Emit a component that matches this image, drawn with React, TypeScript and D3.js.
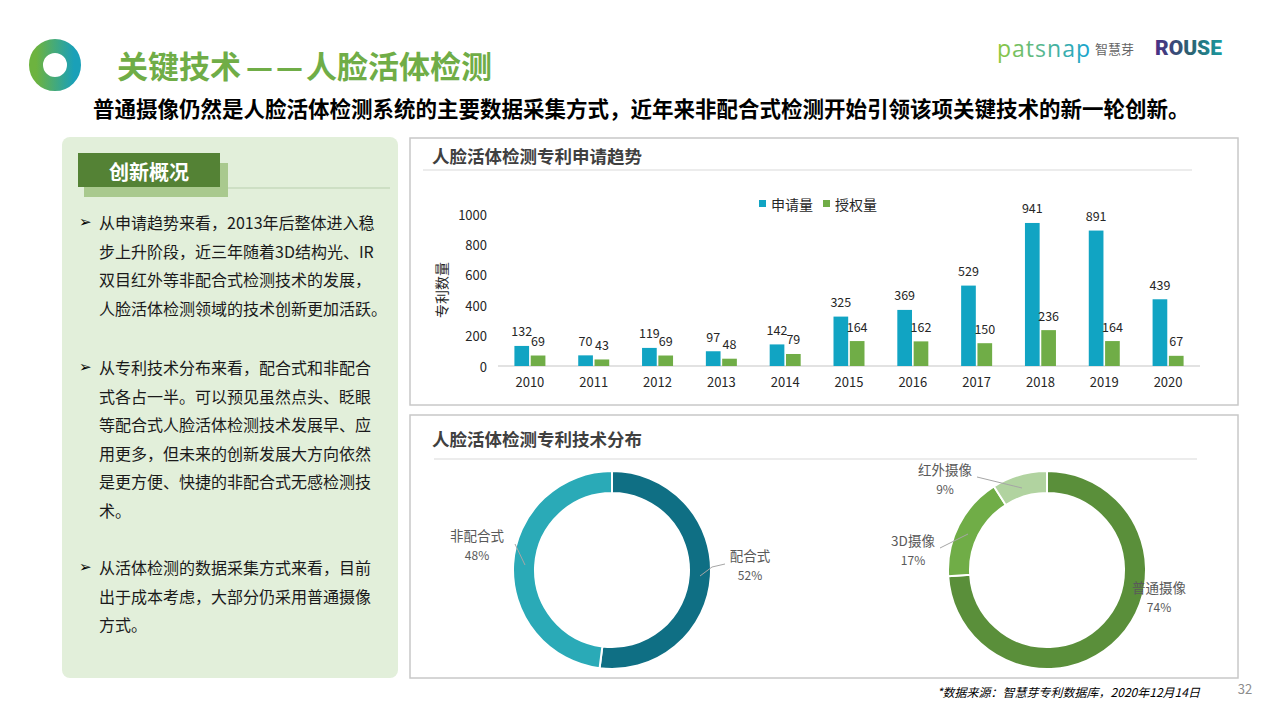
import React from "react";
import * as d3 from "d3";

const years = ["2010", "2011", "2012", "2013", "2014", "2015", "2016", "2017", "2018", "2019", "2020"];
const applications = [132, 70, 119, 97, 142, 325, 369, 529, 941, 891, 439];
const grants = [69, 43, 69, 48, 79, 164, 162, 150, 236, 164, 67];
const seriesNames = ["申请量", "授权量"];
const seriesColors = ["#11a4c3", "#70ad47"];
const yTicks = [0, 200, 400, 600, 800, 1000];

const modeLabels = ["配合式", "非配合式"];
const modeValues = [52, 48];
const modeColors = ["#0f6f84", "#2aaab7"];

const cameraLabels = ["普通摄像", "3D摄像", "红外摄像"];
const cameraValues = [74, 17, 9];
const cameraColors = ["#5a8f3a", "#70ad47", "#b1d3a0"];

const para1 = [
  "从申请趋势来看，2013年后整体进入稳",
  "步上升阶段，近三年随着3D结构光、IR",
  "双目红外等非配合式检测技术的发展，",
  "人脸活体检测领域的技术创新更加活跃。",
];
const para2 = [
  "从专利技术分布来看，配合式和非配合",
  "式各占一半。可以预见虽然点头、眨眼",
  "等配合式人脸活体检测技术发展早、应",
  "用更多，但未来的创新发展大方向依然",
  "是更方便、快捷的非配合式无感检测技",
  "术。",
];
const para3 = [
  "从活体检测的数据采集方式来看，目前",
  "出于成本考虑，大部分仍采用普通摄像",
  "方式。",
];

const FONT = "'Noto Sans CJK SC', 'Noto Sans', sans-serif";

function Donut({ cx, cy, values, colors, labels, labelPos, leaders }) {
  const pie = d3.pie<number>().sort(null).value((d) => d);
  const arcs = pie(values);
  const arc = d3.arc<any>().innerRadius(77).outerRadius(99);
  return (
    <g>
      <g transform={`translate(${cx},${cy})`}>
        {arcs.map((a, i) => (
          <path key={i} d={arc(a) || ""} fill={colors[i]} stroke="#fff" strokeWidth={2} />
        ))}
      </g>
      {leaders.map((pts, i) => (
        <polyline key={i} points={pts.map((p) => p.join(",")).join(" ")} fill="none" stroke="#a6a6a6" strokeWidth={1} />
      ))}
      {labels.map((l, i) => (
        <g key={l}>
          <text x={labelPos[i][0]} y={labelPos[i][1]} textAnchor="middle" dominantBaseline="central" fontSize={13.5} fill="#595959" fontFamily={FONT}>{l}</text>
          <text x={labelPos[i][0]} y={labelPos[i][1] + 19} textAnchor="middle" dominantBaseline="central" fontSize={12} fill="#595959" fontFamily={FONT}>{values[i]}%</text>
        </g>
      ))}
    </g>
  );
}

export default function App() {
  const x0 = d3.scaleBand().domain(years).range([498, 1200]);
  const x1 = d3.scaleBand().domain(seriesNames).range([0, 31]).paddingInner(0.1);
  const y = d3.scaleLinear().domain([0, 1000]).range([366, 214]);
  const series = [applications, grants];

  const paraBlock = (lines: string[], startY: number) =>
    lines.map((t, i) => (
      <g key={t}>
        {i === 0 && (
          <text x={79} y={startY} dominantBaseline="central" fontSize={15} fill="#000" fontFamily="'DejaVu Sans', sans-serif">➢</text>
        )}
        <text x={99} y={startY + i * 28.6} dominantBaseline="central" fontSize={16} fill="#1a1a1a" fontFamily={FONT}>{t}</text>
      </g>
    ));

  return (
    <svg width={1280} height={720} style={{ position: "absolute", left: 0, top: 0, background: "#fff" }}>
      <defs>
        <linearGradient id="logoG" x1="0" y1="0" x2="1" y2="0">
          <stop offset="0" stopColor="#6db33f" />
          <stop offset="1" stopColor="#1aa0b8" />
        </linearGradient>
        <linearGradient id="patG" x1="0" y1="0" x2="1" y2="0">
          <stop offset="0" stopColor="#8cc63f" />
          <stop offset="0.45" stopColor="#5ab88a" />
          <stop offset="1" stopColor="#1aa3cf" />
        </linearGradient>
        <linearGradient id="rouseG" x1="0" y1="0" x2="1" y2="0">
          <stop offset="0" stopColor="#4a2f86" />
          <stop offset="0.5" stopColor="#2d5f6f" />
          <stop offset="1" stopColor="#1a9aa0" />
        </linearGradient>
      </defs>

      {/* header */}
      <circle cx={55} cy={65} r={19} fill="none" stroke="url(#logoG)" strokeWidth={14} />
      <text y={64} dominantBaseline="central" fontSize={31} fontWeight="bold" fill="#70ad47" fontFamily={FONT}>
        <tspan x={117}>关键技术</tspan>
        <tspan x={246} textLength={27} lengthAdjust="spacingAndGlyphs">—</tspan>
        <tspan x={276} textLength={27} lengthAdjust="spacingAndGlyphs">—</tspan>
        <tspan x={306}>人脸活体检测</tspan>
      </text>
      <text x={93} y={107} dominantBaseline="central" fontSize={21.5} fontWeight="bold" fill="#000" fontFamily={FONT}>普通摄像仍然是人脸活体检测系统的主要数据采集方式，近年来非配合式检测开始引领该项关键技术的新一轮创新。</text>
      <text x={997} y={48} dominantBaseline="central" fontSize={23} fill="url(#patG)" fontFamily="'Open Sans', sans-serif" textLength={93}>patsnap</text>
      <text x={1095} y={48} dominantBaseline="central" fontSize={13} fill="#666" fontFamily={FONT}>智慧芽</text>
      <text x={1155} y={48} dominantBaseline="central" fontSize={21} fontWeight="900" fill="url(#rouseG)" fontFamily="'Roboto', sans-serif" textLength={67} lengthAdjust="spacingAndGlyphs">ROUSE</text>

      {/* left panel */}
      <rect x={62} y={137} width={336} height={541} rx={8} fill="#e2efda" />
      <line x1={222} y1={188} x2={390} y2={188} stroke="#b9cfae" strokeWidth={1} />
      <rect x={84} y={163} width={144} height={34} fill="#a9c98e" />
      <rect x={78} y={153} width={142} height={34} fill="#548235" />
      <text x={149} y={171} textAnchor="middle" dominantBaseline="central" fontSize={20} fontWeight="bold" fill="#fff" fontFamily={FONT}>创新概况</text>
      {paraBlock(para1, 222)}
      {paraBlock(para2, 367)}
      {paraBlock(para3, 567)}

      {/* bar chart panel */}
      <rect x={410} y={138} width={828} height={267} fill="#fff" stroke="#c8c8c8" strokeWidth={1.5} />
      <text x={432} y={155} dominantBaseline="central" fontSize={17.5} fontWeight="bold" fill="#404040" fontFamily={FONT}>人脸活体检测专利申请趋势</text>
      <line x1={423} y1={170} x2={1192} y2={170} stroke="#d9d9d9" strokeWidth={1} />
      {seriesNames.map((s, i) => (
        <g key={s}>
          <rect x={[759, 823][i]} y={200} width={7} height={7} fill={seriesColors[i]} />
          <text x={[771, 835][i]} y={204} dominantBaseline="central" fontSize={14} fill="#262626" fontFamily={FONT}>{s}</text>
        </g>
      ))}
      {yTicks.map((t) => (
        <text key={t} x={487} y={y(t)} textAnchor="end" dominantBaseline="central" fontSize={13} fill="#262626" fontFamily={FONT}>{t}</text>
      ))}
      <text transform="translate(441,290) rotate(-90)" textAnchor="middle" dominantBaseline="central" fontSize={14} fill="#262626" fontFamily={FONT}>专利数量</text>
      <line x1={498} y1={y(0)} x2={1200} y2={y(0)} stroke="#d9d9d9" strokeWidth={1.5} />
      {years.map((yr, j) => (
        <g key={yr}>
          {series.map((vals, i) => {
            const bx = (x0(yr) as number) + (x0.bandwidth() - 31) / 2 + (x1(seriesNames[i]) as number);
            return (
              <g key={i}>
                <rect x={bx} y={y(vals[j])} width={x1.bandwidth()} height={y(0) - y(vals[j])} fill={seriesColors[i]} />
                <text x={bx + x1.bandwidth() / 2} y={y(vals[j]) - 15} textAnchor="middle" dominantBaseline="central" fontSize={12.5} fill="#262626" fontFamily={FONT}>{vals[j]}</text>
              </g>
            );
          })}
          <text x={(x0(yr) as number) + x0.bandwidth() / 2} y={381} textAnchor="middle" dominantBaseline="central" fontSize={13} fill="#262626" fontFamily={FONT}>{yr}</text>
        </g>
      ))}

      {/* donut panel */}
      <rect x={410} y={415} width={828} height={263} fill="#fff" stroke="#c8c8c8" strokeWidth={1.5} />
      <text x={432} y={438} dominantBaseline="central" fontSize={17.5} fontWeight="bold" fill="#404040" fontFamily={FONT}>人脸活体检测专利技术分布</text>
      <line x1={434} y1={459} x2={1197} y2={459} stroke="#d9d9d9" strokeWidth={1} />
      <Donut
        cx={612}
        cy={570}
        values={modeValues}
        colors={modeColors}
        labels={modeLabels}
        labelPos={[[750, 555], [477, 535]]}
        leaders={[[[700, 576], [712, 567], [725, 564]], [[515, 544], [525, 565]]]}
      />
      <Donut
        cx={1047}
        cy={570}
        values={cameraValues}
        colors={cameraColors}
        labels={cameraLabels}
        labelPos={[[1159, 587], [913, 540], [945, 469]]}
        leaders={[[], [[940, 548], [968, 534]], [[977, 477], [1022, 488]]]}
      />

      {/* footer */}
      <text x={937} y={691} dominantBaseline="central" fontSize={12} fontStyle="italic" fill="#000" fontFamily={FONT}>*数据来源：智慧芽专利数据库，2020年12月14日</text>
      <text x={1245} y={688} textAnchor="middle" dominantBaseline="central" fontSize={13} fill="#8c8c8c" fontFamily={FONT}>32</text>
    </svg>
  );
}
